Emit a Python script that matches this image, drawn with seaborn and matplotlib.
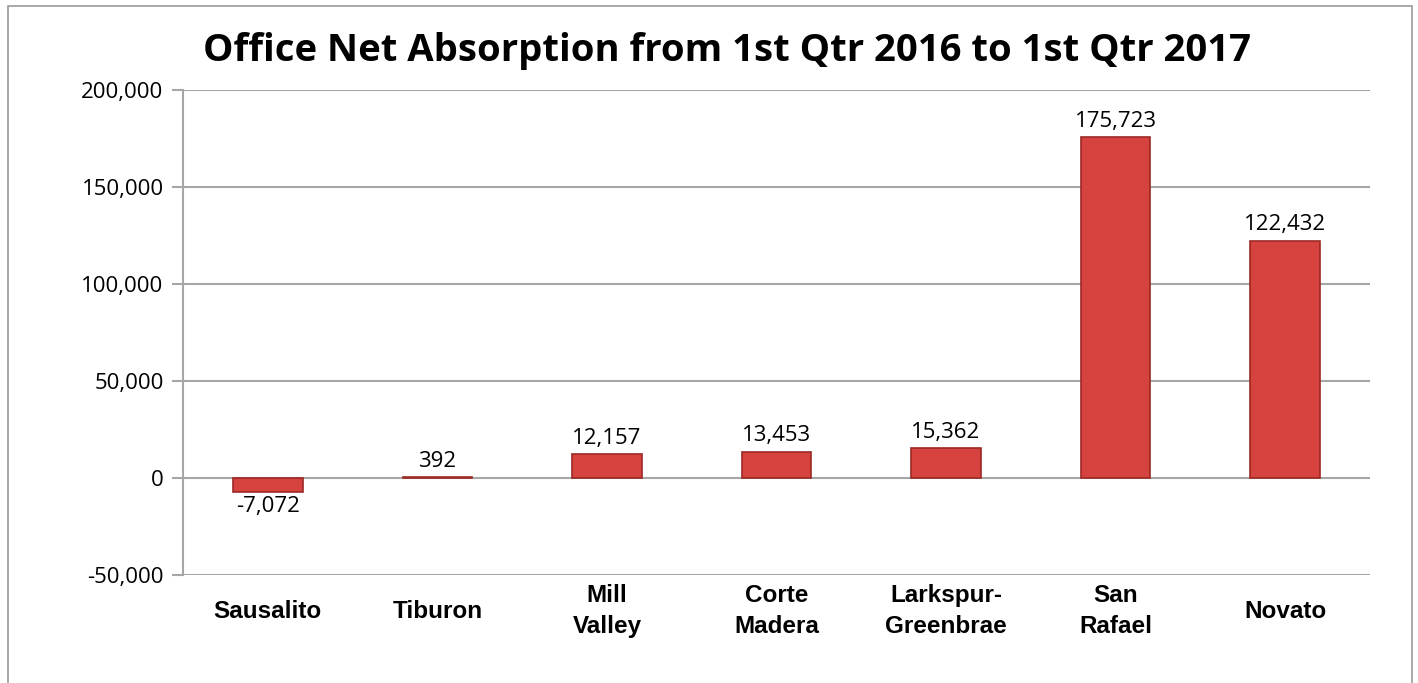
import matplotlib
matplotlib.use("Agg")
import matplotlib.pyplot as plt
import matplotlib.patches as patches
import seaborn as sns
import pandas as pd

# data
cities = ["Sausalito", "Tiburon", "Mill\nValley", "Corte\nMadera",
          "Larkspur-\nGreenbrae", "San\nRafael", "Novato"]
absorption = [-7072, 392, 12157, 13453, 15362, 175723, 122432]
y_ticks = [-50000, 0, 50000, 100000, 150000, 200000]

df = pd.DataFrame({"city": cities, "sqft": absorption})

sns.set_theme(style="white")
plt.rcParams["font.family"] = ["Open Sans", "DejaVu Sans"]
plt.rcParams["text.color"] = "black"

fig = plt.figure(figsize=(14.18, 6.83), dpi=100)
ax = fig.add_axes([0.1291, 0.1581, 0.837, 0.7101])

# outer chart frame
frame = patches.Rectangle((8 / 1418, -0.05), 1404 / 1418, 1.05 - 6 / 683,
                          transform=fig.transFigure, fill=False,
                          edgecolor="#9a9a9a", linewidth=1.2)
fig.add_artist(frame)

sns.barplot(data=df, x="city", y="sqft", color="#d6433e", saturation=1,
            width=0.41, edgecolor="#9b2925", linewidth=1.2, ax=ax, zorder=3)

ax.set_ylim(-50000, 200000)
ax.set_yticks(y_ticks)
ax.set_yticklabels([f"{v:,}" for v in y_ticks], fontsize=16)
ax.yaxis.grid(True, color="#a6a6a6", linewidth=1.5, zorder=0)
ax.xaxis.grid(False)

for side in ["top", "right", "bottom"]:
    ax.spines[side].set_visible(False)
ax.spines["left"].set_color("#a6a6a6")
ax.spines["left"].set_linewidth(1.5)
ax.tick_params(axis="y", left=True, length=8, width=1.5, color="#a6a6a6",
               pad=6, labelcolor="black")
ax.tick_params(axis="x", bottom=False, pad=20, labelcolor="black")

for lbl in ax.get_xticklabels():
    lbl.set_fontfamily(["Liberation Sans", "DejaVu Sans"])
    lbl.set_fontweight("bold")
    lbl.set_fontsize(17.5)
    lbl.set_verticalalignment("center")
    lbl.set_linespacing(1.45)

# value labels
for i, v in enumerate(absorption):
    if v >= 0:
        ax.annotate(f"{v:,}", (i, v), xytext=(0, 4), textcoords="offset points",
                    ha="center", va="bottom", fontsize=16, color="black")
    else:
        ax.annotate(f"{v:,}", (i, v), xytext=(0, -3), textcoords="offset points",
                    ha="center", va="top", fontsize=16, color="black")

ax.set_xlabel("")
ax.set_ylabel("")
fig.text(0.513, 0.925, "Office Net Absorption from 1st Qtr 2016 to 1st Qtr 2017",
         ha="center", va="center", fontsize=27.5, fontweight="bold", color="black")

fig.savefig("out.png", dpi=100)
